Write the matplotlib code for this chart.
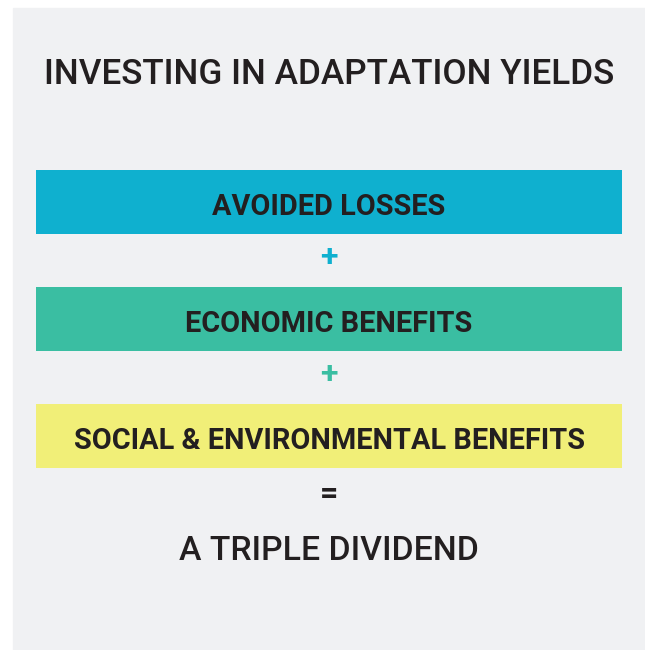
import matplotlib
matplotlib.use("Agg")
import matplotlib.pyplot as plt

title = "INVESTING IN ADAPTATION YIELDS"
components = ["AVOIDED LOSSES", "ECONOMIC BENEFITS", "SOCIAL & ENVIRONMENTAL BENEFITS"]
colors = ["#0fb0cf", "#3abea2", "#f1ef78"]
operators = ["+", "+", "="]
operator_colors = ["#0fb0cf", "#3abea2", "#231f20"]
result = "A TRIPLE DIVIDEND"

W, H = 645, 650
fig = plt.figure(figsize=(W / 100, H / 100), dpi=100)
fig.patch.set_facecolor("white")
ax = fig.add_axes([0, 0, 1, 1])
ax.set_xlim(0, W)
ax.set_ylim(H, 0)
ax.axis("off")

# grey panel
ax.add_patch(plt.Rectangle((13, 8), W - 13, H - 8, color="#f0f1f3", zorder=0))

ink = "#231f20"
cx = 329
ax.text(cx, 75, title, ha="center", va="center", fontsize=25.3,
        family="Roboto", fontweight="medium", color=ink)

step = 117
for i, (lab, c) in enumerate(zip(components, colors)):
    yc = 202 + i * step
    ax.barh(yc, 586, left=36, height=64, color=c, zorder=1)
    ax.text(cx, yc + 5, lab, ha="center", va="center", fontsize=20.8,
            family="Roboto", fontweight="bold", color=ink, zorder=2)
    ax.text(cx, yc + 55 if i < 2 else yc + 58, operators[i], ha="center", va="center",
            fontsize=23, family="Roboto", fontweight="bold",
            color=operator_colors[i], zorder=2)

ax.text(cx, 551, result, ha="center", va="center", fontsize=24.3,
        family="Roboto", fontweight="medium", color=ink)

fig.savefig("out.png", dpi=100, facecolor=fig.get_facecolor())
